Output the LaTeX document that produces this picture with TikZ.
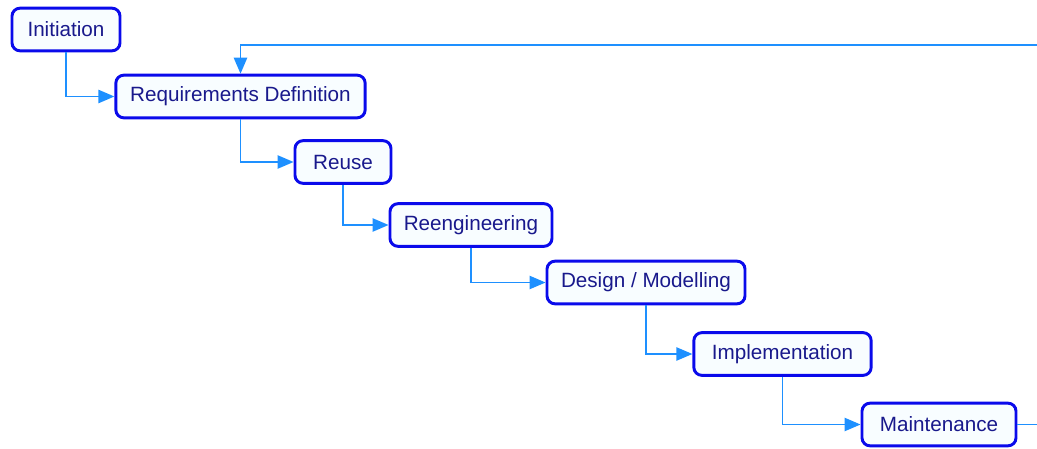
\documentclass[tikz,border=0pt]{standalone}
\usepackage{fontspec}
\setmainfont{Liberation Sans}
\usetikzlibrary{arrows.meta,positioning}

\definecolor{stageline}{RGB}{10,10,235}
\definecolor{stagefill}{RGB}{248,253,255}
\definecolor{stagetext}{RGB}{25,25,140}
\definecolor{flowline}{RGB}{30,144,255}

\begin{document}
\begin{tikzpicture}[
    x=0.75pt, y=-0.75pt,
    every node/.style={font=\fontsize{15.5}{18}\selectfont},
    stage/.style={draw=stageline, line width=2.2pt, rounded corners=6pt, fill=stagefill, text=stagetext, align=center, minimum height=32pt, inner xsep=4pt},
    flow/.style={-{Triangle[length=12pt, width=10pt]}, draw=flowline, line width=1.1pt},
    plain/.style={draw=flowline, line width=1.1pt}
]
\useasboundingbox (0,0) rectangle (1037,449);
\node[stage, minimum width=81pt] (init) at (66,29.5) {Initiation};
\node[stage, minimum width=187pt] (req) at (240.5,96.5) {Requirements Definition};
\node[stage, minimum width=72pt] (reuse) at (343,162) {Reuse};
\node[stage, minimum width=121.5pt] (reeng) at (471,225) {Reengineering};
\node[stage, minimum width=148.5pt] (design) at (646,282.5) {Design / Modelling};
\node[stage, minimum width=133pt] (impl) at (782.5,354) {Implementation};
\node[stage, minimum width=115.5pt] (maint) at (939,424.5) {Maintenance};
% loose ends leaving the page on the right
\coordinate (loopin) at (1037,45);
\coordinate (loopout) at (1037,424.5);
\draw[flow] (init.south) |- (req.west);
\draw[flow] (req.south) |- (reuse.west);
\draw[flow] (reuse.south) |- (reeng.west);
\draw[flow] (reeng.south) |- (design.west);
\draw[flow] (design.south) |- (impl.west);
\draw[flow] (impl.south) |- (maint.west);
\draw[plain] (maint.east) -- (loopout);
\draw[flow] (loopin) -| (req.north);
\end{tikzpicture}
\end{document}
